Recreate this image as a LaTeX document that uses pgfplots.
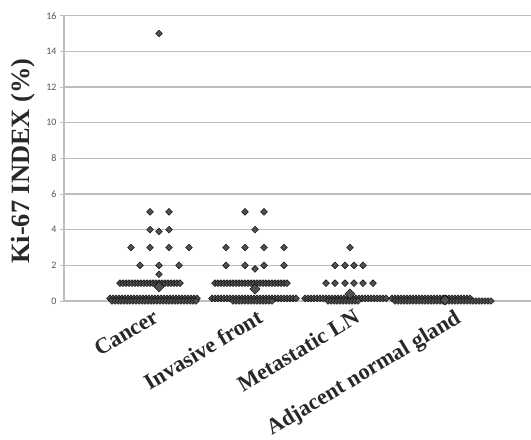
\documentclass[border=0pt]{standalone}
\usepackage{pgfplots}
\pgfplotsset{compat=1.18}
\usepackage{fontspec}
\setmainfont{Liberation Serif}
\newfontfamily\tickfont{Carlito}
\definecolor{mk}{RGB}{80,80,80}
\definecolor{gridc}{RGB}{190,190,190}
\definecolor{lab}{RGB}{40,40,40}
\begin{document}
\begin{tikzpicture}
\begin{axis}[
 scale only axis, width=467bp, height=285.3bp,
 xmin=64, xmax=531, ymin=0, ymax=16,
 axis x line*=bottom, axis y line*=left,
 x axis line style={draw=none},
 y axis line style={gridc, line width=1.2bp, -},
 ytick={0,2,...,16},
 ymajorgrids, grid style={gridc, line width=1.2bp},
 xtick={152,256,353,454},
 xticklabels={Cancer, Invasive front, Metastatic LN, Adjacent normal gland},
 xtick style={draw=none},
 ytick style={gridc, line width=1bp},
 tick align=outside, major tick length=4bp,
 /pgf/number format/assume math mode=true,
 yticklabel style={font=\tickfont\fontsize{10}{12}\selectfont, text=lab!80},
 xticklabel style={font=\bfseries\fontsize{22.5}{26}\selectfont, text=lab, anchor=north east, yshift=-3bp, rotate=31, inner sep=0pt},
 ylabel={Ki-67 INDEX (\%)},
 ylabel style={font=\bfseries\fontsize{26.5}{30}\selectfont, text=lab},
 every axis y label/.append style={at={(axis description cs:-0.088,0.49)}, anchor=center},
 clip=false,
]
% Cancer
\addplot[only marks, mark=square*, mark size=2.4bp, mark options={rotate=45, draw=none, fill=mk}] coordinates {
(110,0.15)(113,0.15)(116,0.15)(119,0.15)(122,0.15)(125,0.15)(128,0.15)(131,0.15)(134,0.15)(137,0.15)
(140,0.15)(143,0.15)(146,0.15)(149,0.15)(152,0.15)(155,0.15)(158,0.15)(161,0.15)(164,0.15)(167,0.15)
(170,0.15)(173,0.15)(176,0.15)(179,0.15)(182,0.15)(185,0.15)(188,0.15)(191,0.15)(194,0.15)(197,0.15)
(112,0)(115,0)(118,0)(121,0)(124,0)(127,0)(130,0)(133,0)(136,0)(139,0)(142,0)(145,0)(148,0)(151,0)(154,0)
(157,0)(160,0)(163,0)(166,0)(169,0)(172,0)(175,0)(178,0)(181,0)(184,0)(187,0)(190,0)(193,0)(196,0)
(120,1)(123,1)(126,1)(129,1)(132,1)(135,1)(138,1)(141,1)(144,1)(147,1)(150,1)(153,1)(156,1)(159,1)(162,1)
(165,1)(168,1)(171,1)(174,1)(177,1)(180,1)
(159,15)(150,5)(169,5)(150,4)(169,4)(159,3.9)(131,3)(150,3)(169,3)(189,3)(140,2)(159,2)(179,2)(159,1.5)
};
% Invasive front
\addplot[only marks, mark=square*, mark size=2.4bp, mark options={rotate=45, draw=none, fill=mk}] coordinates {
(212,0.15)(215,0.15)(218,0.15)(221,0.15)(224,0.15)(227,0.15)(230,0.15)(233,0.15)(236,0.15)(239,0.15)
(242,0.15)(245,0.15)(248,0.15)(251,0.15)(254,0.15)(257,0.15)(260,0.15)(263,0.15)(266,0.15)(269,0.15)
(272,0.15)(275,0.15)(278,0.15)(281,0.15)(284,0.15)(287,0.15)(290,0.15)(293,0.15)(296,0.15)
(233,0)(236,0)(239,0)(242,0)(245,0)(248,0)(251,0)(254,0)(257,0)(260,0)(263,0)(266,0)(269,0)(272,0)
(215,1)(218,1)(221,1)(224,1)(227,1)(230,1)(233,1)(236,1)(239,1)(242,1)(245,1)(248,1)(251,1)(254,1)(257,1)
(260,1)(263,1)(266,1)(269,1)(272,1)(275,1)(278,1)(281,1)(284,1)(287,1)
(245,5)(264,5)(255,4)(226,3)(245,3)(264,3)(284,3)(226,2)(245,2)(264,2)(284,2)(255,1.8)
};
% Metastatic LN
\addplot[only marks, mark=square*, mark size=2.4bp, mark options={rotate=45, draw=none, fill=mk}] coordinates {
(305,0.15)(308,0.15)(311,0.15)(314,0.15)(317,0.15)(320,0.15)(323,0.15)(326,0.15)(329,0.15)(332,0.15)
(335,0.15)(338,0.15)(341,0.15)(344,0.15)(347,0.15)(350,0.15)(353,0.15)(356,0.15)(359,0.15)(362,0.15)
(365,0.15)(368,0.15)(371,0.15)(374,0.15)(377,0.15)(380,0.15)(383,0.15)(386,0.15)
(328,0)(331,0)(334,0)(337,0)(340,0)(343,0)(346,0)(349,0)(352,0)(355,0)(358,0)
(326,1)(335,1)(345,1)(354,1)(363,1)(373,1)
(335,2)(345,2)(354,2)(363,2)
(350,3)
};
% Adjacent normal gland
\addplot[only marks, mark=square*, mark size=2.4bp, mark options={rotate=45, draw=none, fill=mk}] coordinates {
(392,0.15)(395,0.15)(398,0.15)(401,0.15)(404,0.15)(407,0.15)(410,0.15)(413,0.15)(416,0.15)(419,0.15)
(422,0.15)(425,0.15)(428,0.15)(431,0.15)(434,0.15)(437,0.15)(440,0.15)(443,0.15)(446,0.15)(449,0.15)
(452,0.15)(455,0.15)(458,0.15)(461,0.15)(464,0.15)(467,0.15)(470,0.15)
(395,0)(398,0)(401,0)(404,0)(407,0)(410,0)(413,0)(416,0)(419,0)(422,0)(425,0)(428,0)(431,0)(434,0)
(437,0)(440,0)(443,0)(446,0)(449,0)(452,0)(455,0)(458,0)(461,0)(464,0)(467,0)(470,0)(473,0)(476,0)
(479,0)(482,0)(485,0)(488,0)(491,0)
};
% Means
\addplot[only marks, mark=square*, mark size=3.6bp, mark options={rotate=45, draw=none, fill=mk}] coordinates {
(159,0.8)(255,0.67)(350,0.39)(445,0.05)
};
\end{axis}
\pgfresetboundingbox
\path[use as bounding box] (-64bp,-139bp) rectangle (467bp,301bp);
\end{tikzpicture}
\end{document}
